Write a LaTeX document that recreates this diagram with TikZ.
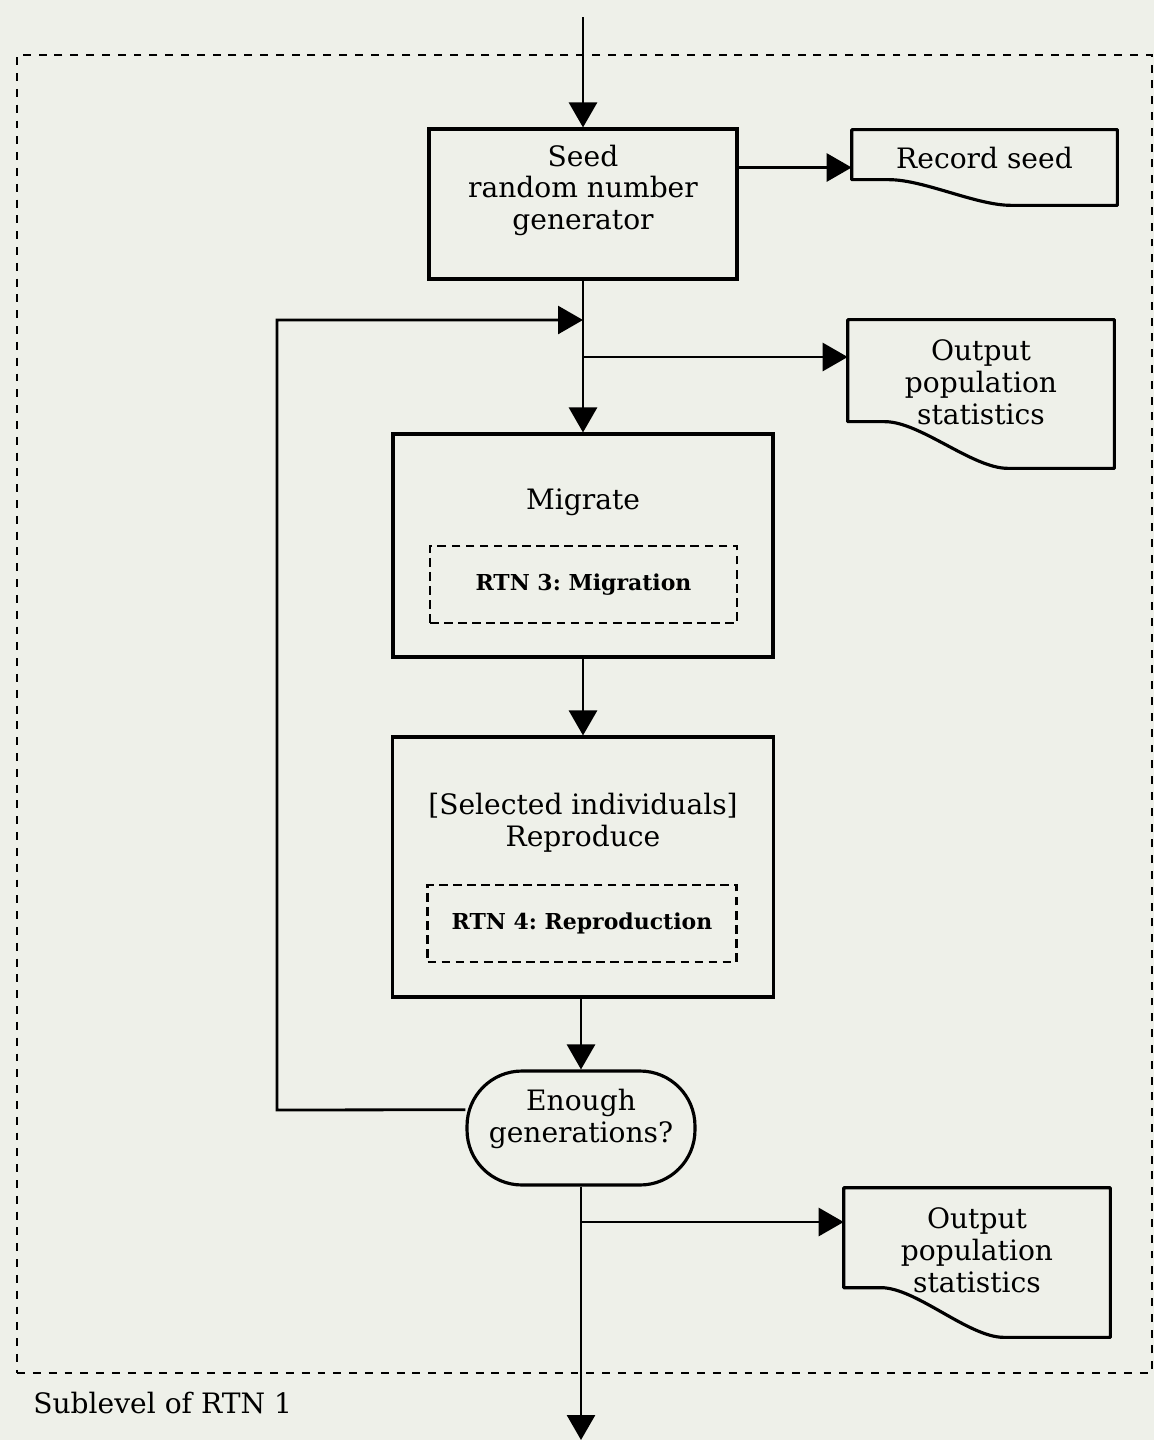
\documentclass[tikz,border=0pt]{standalone}
\usepackage{fontspec}
\setmainfont{DejaVu Serif}
\usepackage {tikz}
\usetikzlibrary {positioning}
\usetikzlibrary{calc}
\usetikzlibrary{arrows.meta}
\frenchspacing
\definecolor{paper}{RGB}{238,240,233}
\tikzset{
    flow/.style = {line width=1.6pt, -{Triangle[length=0.5cm,width=0.56cm]}},
    link/.style = {line width=1.6pt},
    process/.style = {rectangle,draw,line width=1.8pt,align=center,boxtext},
    subroutine/.style = {rectangle,draw,line width=1.6pt,dash pattern=on 5pt off 3pt,
        font=\bfseries\fontsize{12.5}{15}\selectfont},
    terminal/.style = {rectangle,draw,rounded corners=1.1cm,line width=1.8pt,align=center,boxtext},
    document/.style = {rectangle,align=center,boxtext,text depth=14pt},
    docline/.style = {line width=1.8pt,line join=round},
    group/.style = {rectangle,draw,line width=1.3pt,dash pattern=on 4.5pt off 4.5pt},
    boxtext/.style = {font=\fontsize{16}{18.2}\selectfont}}

% outline of a document symbol: node, height of its left edge
\newcommand{\docframe}[2]{%
    \draw[docline] ($(#1.north west)+(0,#2)$) -- (#1.north west) -- (#1.north east) -- (#1.south east)
        -- ($(#1.south west)!0.6!(#1.south east)$)
        .. controls +(-35,0) and +(35,0) .. ($(#1.north west)!0.14!(#1.north east)+(0,#2)$)
        -- cycle;}

\begin{document}
\begin{tikzpicture}[x=0.02cm,y=-0.02cm]
    \fill[paper] (0,0) rectangle (1154,1440);
    \useasboundingbox (0,0) rectangle (1154,1440);

    \node[group, minimum width=22.7cm, minimum height=26.36cm] (sublevel) at (584.5,714) {};
    \node[anchor=west, inner sep=0pt, boxtext] (sublabel) at (33,1403) {Sublevel of RTN 1};

    \node[process, minimum width=6.16cm, minimum height=3cm, text depth=19pt] (seed) at (583,204)
        {Seed\\random number\\generator};
    \node[document, minimum width=5.3cm, minimum height=1.5cm, text depth=11pt] (rec) at (984.5,167.5)
        {Record seed};
    \node[document, minimum width=5.32cm, minimum height=2.96cm] (out1) at (981,394)
        {Output\\population\\statistics};
    \node[process, minimum width=7.6cm, minimum height=4.46cm] (mig) at (583,545.5) {};
    \node[boxtext] (migtxt) at (583,502) {Migrate};
    \node[subroutine, minimum width=6.14cm, minimum height=1.54cm] (rtn3) at (583.5,584.5)
        {RTN 3: Migration};
    \node[process, minimum width=7.62cm, minimum height=5.2cm] (rep) at (583,867) {};
    \node[boxtext, align=center] (reptxt) at (583,823) {[Selected individuals]\\Reproduce};
    \node[subroutine, minimum width=6.18cm, minimum height=1.54cm] (rtn4) at (582,923.5)
        {RTN 4: Reproduction};
    \node[terminal, minimum width=4.56cm, minimum height=2.28cm, text depth=13.5pt] (enough) at (581,1128)
        {Enough\\generations?};
    \node[document, minimum width=5.32cm, minimum height=2.98cm] (out2) at (977,1262.5)
        {Output\\population\\statistics};

    \docframe{rec}{50}
    \docframe{out1}{102}
    \docframe{out2}{100}

    \coordinate (entry) at (583,17);
    \coordinate (exit) at (581,1440);
    \coordinate (loopin) at (583,320);
    \coordinate (fork1) at (583,357);
    \coordinate (fork2) at (581,1222);
    \coordinate (loopcorner) at (277,1110);

    \draw[flow] (entry) -- (seed);
    \draw[flow] (seed.east |- rec.west) -- (rec.west);
    \draw[link] (seed) -- (fork1);
    \draw[flow] (fork1) -- (mig);
    \draw[flow] (fork1) -- (fork1 -| out1.west);
    \draw[flow] (mig) -- (rep);
    \draw[flow] (rep.south -| enough.north) -- (enough);
    \draw[flow] (enough.171) -- (loopcorner) |- (loopin);
    \draw[flow] (enough) -- (exit);
    \draw[flow] (fork2) -- (fork2 -| out2.west);
\end{tikzpicture}
\end{document}
